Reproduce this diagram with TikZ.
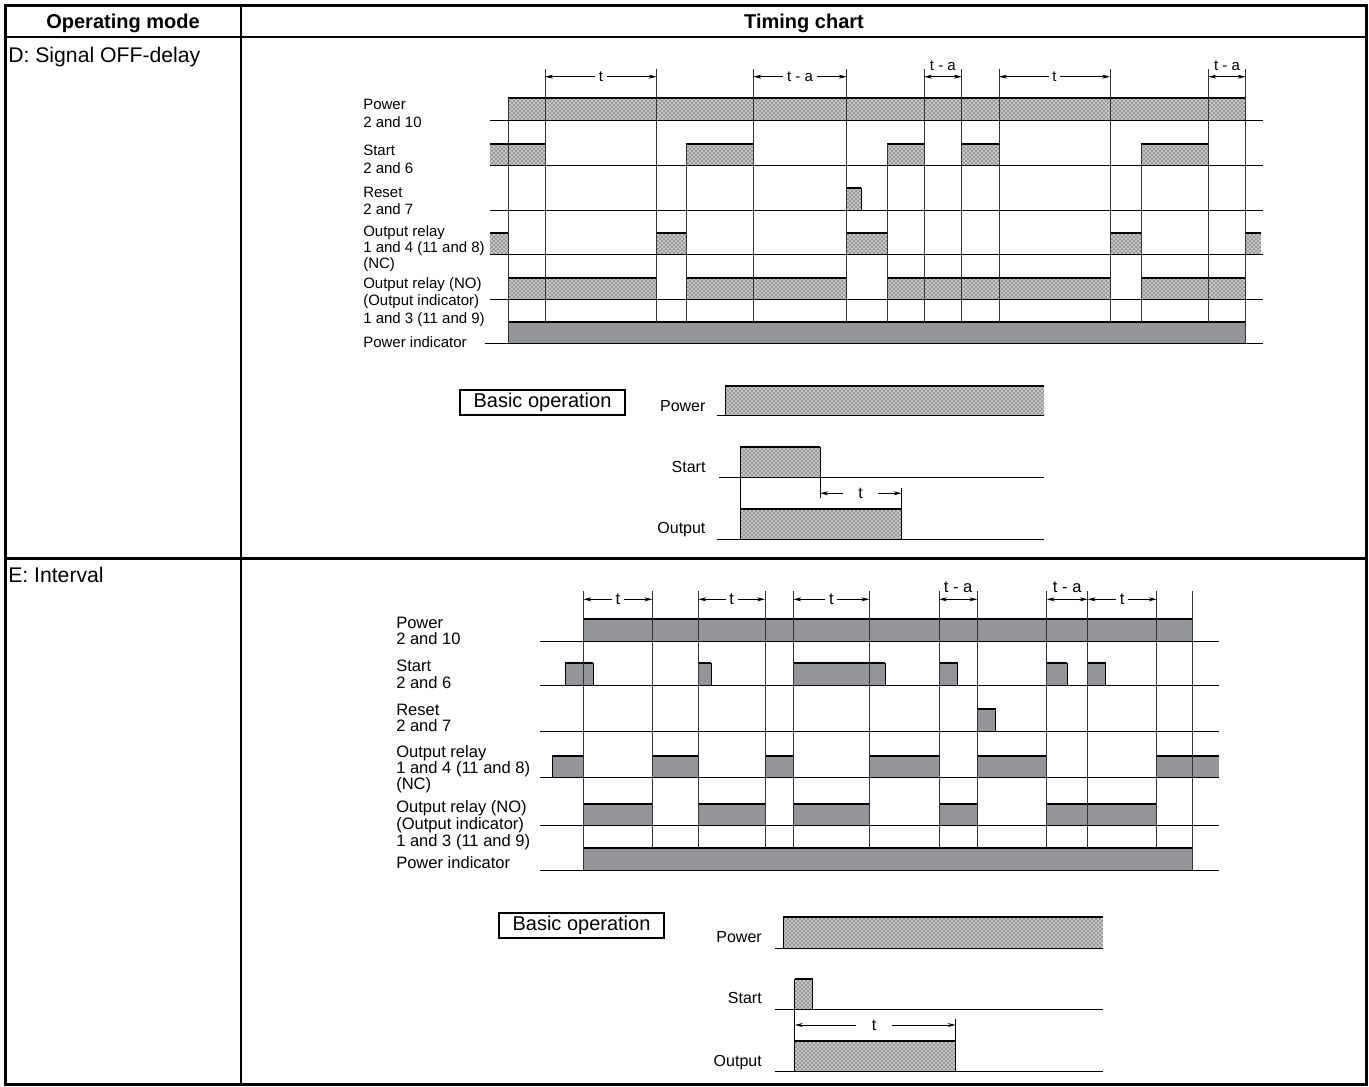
\documentclass[tikz,border=0pt]{standalone}
\usepackage{fontspec}
\setmainfont{Liberation Sans}
\usetikzlibrary{patterns,arrows.meta}
\definecolor{sigg}{HTML}{939598}
\newcommand\fntH{\fontsize{15}{18}\bfseries\selectfont}
\newcommand\fntL{\fontsize{15.9}{19}\selectfont}
\newcommand\fntD{\fontsize{11.25}{13}\selectfont}
\newcommand\fntE{\fontsize{12.4}{14}\selectfont}
\newcommand\fntB{\fontsize{12}{14}\selectfont}
\newcommand\fntBox{\fontsize{15}{18}\selectfont}
\tikzset{
  tbl/.style={line width=1.9pt},
  pedge/.style={line width=0.7pt, black},
  ptop/.style={line width=1.6pt, black},
  stip/.style={preaction={fill=black!22}, pattern=crosshatch dots, pattern color=black},
  gfill/.style={fill=sigg},
  rowline/.style={line width=0.75pt, black},
  tline/.style={line width=0.7pt, black!80},
  dimarr/.style={line width=0.6pt, -{Stealth[length=6pt,width=3pt]}},
  dimboth/.style={line width=0.6pt, {Stealth[length=6pt,width=3pt]}-{Stealth[length=6pt,width=3pt]}},
  lblD/.style={anchor=base west, inner sep=0pt, font=\fntD},
  lblE/.style={anchor=base west, inner sep=0pt, font=\fntE},
  lblB/.style={anchor=base east, inner sep=0pt, font=\fntB},
  boxlbl/.style={draw, line width=1.5pt, inner sep=0pt, minimum width=123.75pt, minimum height=18.6pt, font=\fntBox},
}
% style, x1, x2, top, base
\newcommand\sigpulse[5]{%
  \path[#1] (#2,#4) rectangle (#3,#5);
  \draw[pedge] (#2,#5) -- (#2,#4);
  \draw[pedge] (#3,#4) -- (#3,#5);
  \draw[ptop] (#2,#4) -- (#3,#4);}
\newcommand\sigopenL[5]{%
  \path[#1] (#2,#4) rectangle (#3,#5);
  \draw[pedge] (#3,#4) -- (#3,#5);
  \draw[ptop] (#2,#4) -- (#3,#4);}
\newcommand\sigopenR[5]{%
  \path[#1] (#2,#4) rectangle (#3,#5);
  \draw[pedge] (#2,#5) -- (#2,#4);
  \draw[ptop] (#2,#4) -- (#3,#4);}
% name x1 x2 y text font
\newcommand\spanwide[6]{%
  \coordinate (#1l) at (#2,#4);
  \coordinate (#1r) at (#3,#4);
  \node[inner sep=2.5pt, font=#6] (#1) at ({(#2+#3)/2},#4) {#5};
  \draw[dimarr] (#1.west) -- (#1l);
  \draw[dimarr] (#1.east) -- (#1r);}
% name x1 x2 yarrow ylabel text font
\newcommand\spannarrow[7]{%
  \coordinate (#1l) at (#2,#4);
  \coordinate (#1r) at (#3,#4);
  \draw[dimboth] (#1l) -- (#1r);
  \node[inner sep=0pt, font=#7] (#1) at ({(#2+#3)/2},#5) {#6};}
\begin{document}
\begin{tikzpicture}[x=0.75pt,y=-0.75pt]
\useasboundingbox (0,0) rectangle (1369,1087);
% ---------------- table ----------------
\draw[tbl] (5.5,5.5) rectangle (1366.5,1084.5);
\draw[tbl] (5.5,37) -- (1366.5,37);
\draw[tbl] (5.5,558.5) -- (1366.5,558.5);
\draw[tbl] (241,5.5) -- (241,1084.5);
\node[anchor=base, inner sep=0pt, font=\fntH] (hmode) at (123,29) {Operating mode};
\node[anchor=base, inner sep=0pt, font=\fntH] (hchart) at (804,29) {Timing chart};
\node[anchor=base west, inner sep=0pt, font=\fntL] (modeD) at (8,62.5) {D: Signal OFF-delay};
\node[anchor=base west, inner sep=0pt, font=\fntL] (modeE) at (8,582.5) {E: Interval};
% ---------------- chart D ----------------
\node[lblD] (dL1) at (363,110) {Power};
\node[lblD] (dL2) at (363,127.5) {2 and 10};
\node[lblD] (dL3) at (363,156) {Start};
\node[lblD] (dL4) at (363,173.5) {2 and 6};
\node[lblD] (dL5) at (363,198) {Reset};
\node[lblD] (dL6) at (363,214.5) {2 and 7};
\node[lblD] (dL7) at (363,237) {Output relay};
\node[lblD] (dL8) at (363,252.5) {1 and 4 (11 and 8)};
\node[lblD] (dL9) at (363,269) {(NC)};
\node[lblD] (dL10) at (363,289) {Output relay (NO)};
\node[lblD] (dL11) at (363,305.5) {(Output indicator)};
\node[lblD] (dL12) at (363,323) {1 and 3 (11 and 9)};
\node[lblD] (dL13) at (363,347) {Power indicator};
% fills
\sigpulse{stip}{508.3}{1245.7}{98.3}{121}
\sigopenL{stip}{490}{545}{144}{166}
\foreach \a/\b in {686/753.3, 887.3/924, 961.7/999, 1141/1208.3}{\sigpulse{stip}{\a}{\b}{144}{166}}
\sigpulse{stip}{846.7}{861}{188.3}{210.7}
\sigopenL{stip}{490}{508.3}{233.3}{255}
\foreach \a/\b in {656.7/686, 846.7/887.3, 1110/1141}{\sigpulse{stip}{\a}{\b}{233.3}{255}}
\sigopenR{stip}{1245.7}{1261}{233.3}{255}
\foreach \a/\b in {508.3/656.7, 686/846.7, 887.3/1110, 1141/1245.7}{\sigpulse{stip}{\a}{\b}{278.3}{299.3}}
\sigpulse{gfill}{508.3}{1245.7}{321.7}{343.3}
% time lines
\foreach \x in {545,656.7,753.3,846.7,924,961.7,999,1110,1208.3}{\draw[tline] (\x,69) -- (\x,321.7);}
\foreach \x in {686,887.3,1141}{\draw[tline] (\x,144) -- (\x,321.7);}
\draw[tline] (1245.7,69) -- (1245.7,343.3);
\draw[tline] (508.3,98.3) -- (508.3,343.3);
% baselines
\foreach \y in {121,166,210.7,255,299.3}{\draw[rowline] (490,\y) -- (1263,\y);}
\draw[rowline] (485,343.3) -- (1263,343.3);
% dimensions
\spanwide{dA}{545}{656.7}{76.7}{t}{\fntD}
\spanwide{dB}{753.3}{846.7}{76.7}{t - a}{\fntD}
\spannarrow{dC}{924}{961.7}{76.7}{66}{t - a}{\fntD}
\spanwide{dD}{999}{1110}{76.7}{t}{\fntD}
\spannarrow{dE}{1208.3}{1245.7}{76.7}{66}{t - a}{\fntD}
% ---------------- basic operation D ----------------
\node[boxlbl] (bD) at (542.5,402.8) {Basic operation};
\node[lblB] (bDp) at (705.7,411) {Power};
\node[lblB] (bDs) at (705.7,472) {Start};
\node[lblB] (bDo) at (705.7,533.5) {Output};
\sigopenR{stip}{725}{1044}{386}{415.7}
\sigpulse{stip}{740}{820}{447.3}{477.7}
\sigpulse{stip}{740}{901.7}{509.3}{539.3}
\draw[rowline] (716.7,415.7) -- (1044,415.7);
\draw[rowline] (719,477.7) -- (1044,477.7);
\draw[rowline] (716.7,539.3) -- (1044,539.3);
\draw[pedge] (740,477.7) -- (740,509.3);
\draw[pedge] (820,477.7) -- (820,498.3);
\draw[pedge] (901.7,488) -- (901.7,509.3);
\coordinate (bDl) at (820,493.3);
\coordinate (bDr) at (901.7,493.3);
\node[inner sep=0pt, minimum width=26pt, font=\fntB] (bDt) at (860.7,493.3) {t};
\draw[dimarr] (bDt.west) -- (bDl);
\draw[dimarr] (bDt.east) -- (bDr);
% ---------------- chart E ----------------
\node[lblE] (eL1) at (396,628.8) {Power};
\node[lblE] (eL2) at (396,644.8) {2 and 10};
\node[lblE] (eL3) at (396,671.5) {Start};
\node[lblE] (eL4) at (396,688.8) {2 and 6};
\node[lblE] (eL5) at (396,715.5) {Reset};
\node[lblE] (eL6) at (396,731.5) {2 and 7};
\node[lblE] (eL7) at (396,757.2) {Output relay};
\node[lblE] (eL8) at (396,773.2) {1 and 4 (11 and 8)};
\node[lblE] (eL9) at (396,789.8) {(NC)};
\node[lblE] (eL10) at (396,812.8) {Output relay (NO)};
\node[lblE] (eL11) at (396,829.5) {(Output indicator)};
\node[lblE] (eL12) at (396,846.2) {1 and 3 (11 and 9)};
\node[lblE] (eL13) at (396,868.2) {Power indicator};
\sigpulse{gfill}{583.3}{1192.3}{619.3}{641.7}
\foreach \a/\b in {565/593.3, 698.3/711, 793.3/885.3, 939/957.5, 1046.7/1067.3, 1087.7/1105.5}{\sigpulse{gfill}{\a}{\b}{663.3}{685}}
\sigpulse{gfill}{977.3}{995.7}{709}{731}
\foreach \a/\b in {552.3/583.3, 652.3/698.3, 765/793.3, 869.3/939, 977.3/1046.7}{\sigpulse{gfill}{\a}{\b}{755.7}{777.7}}
\sigopenR{gfill}{1156.7}{1219}{755.7}{777.7}
\foreach \a/\b in {583.3/652.3, 698.3/765, 793.3/869.3, 939/977.3, 1046.7/1156.7}{\sigpulse{gfill}{\a}{\b}{804.3}{825.7}}
\sigpulse{gfill}{583.3}{1192.3}{848.3}{870}
\foreach \x in {652.3,698.3,765,793.3,869.3,939,977.3,1046.7,1087.7,1156.7}{\draw[tline] (\x,591) -- (\x,848.3);}
\draw[tline] (583.3,591) -- (583.3,870);
\draw[tline] (1192.3,591) -- (1192.3,870);
\foreach \y in {641.7,685,731,777.7,825.7,870}{\draw[rowline] (540,\y) -- (1219.3,\y);}
\spanwide{eA}{583.3}{652.3}{599.3}{t}{\fntE}
\spanwide{eB}{698.3}{765}{599.3}{t}{\fntE}
\spanwide{eC}{793.3}{869.3}{599.3}{t}{\fntE}
\spannarrow{eD}{939}{977.3}{599.3}{587}{t - a}{\fntE}
\spannarrow{eE}{1046.7}{1087.7}{599.3}{587}{t - a}{\fntE}
\spanwide{eF}{1087.7}{1156.7}{599.3}{t}{\fntE}
% ---------------- basic operation E ----------------
\node[boxlbl] (bE) at (581.5,925.5) {Basic operation};
\node[lblB] (bEp) at (762,942.5) {Power};
\node[lblB] (bEs) at (762,1003.5) {Start};
\node[lblB] (bEo) at (762,1066.5) {Output};
\sigopenR{stip}{783}{1103}{917}{948}
\sigpulse{stip}{794.8}{812.5}{979}{1009}
\sigpulse{stip}{794.8}{955.6}{1041}{1071}
\draw[rowline] (774.6,948) -- (1103,948);
\draw[rowline] (774.6,1009) -- (1103,1009);
\draw[rowline] (774.6,1071) -- (1103,1071);
\draw[pedge] (794.8,1009) -- (794.8,1041);
\draw[pedge] (955.6,1019) -- (955.6,1041);
\coordinate (bEl) at (794.8,1025);
\coordinate (bEr) at (955.6,1025);
\node[inner sep=0pt, minimum width=26pt, font=\fntB] (bEt) at (874,1025) {t};
\draw[dimarr] (bEt.west) -- (bEl);
\draw[dimarr] (bEt.east) -- (bEr);
\end{tikzpicture}
\end{document}
